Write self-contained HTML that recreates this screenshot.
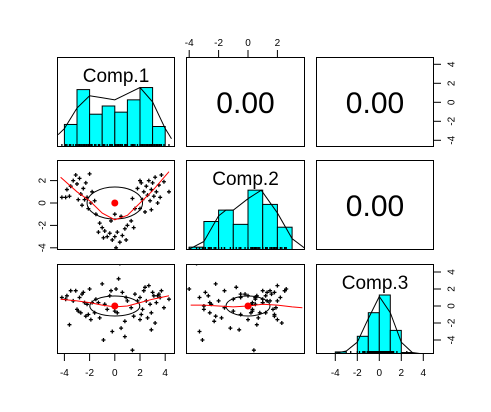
<!DOCTYPE html>
<html><head><meta charset="utf-8"><style>
html,body{margin:0;padding:0;background:#fff;}
svg{display:block;font-family:"Liberation Sans",Arial,sans-serif;}
</style></head><body>
<svg id="chart" width="491" height="412" viewBox="0 0 491 412"></svg>
<script>
// ---- data ----
const varNames = ["Comp.1","Comp.2","Comp.3"];
const corrValues = ["0.00","0.00","0.00"];
const comp1 = [-3.8,-3.5,-3.3,-3.0,-2.8,-2.7,-2.5,-2.4,-2.3,-2.2,-2.0,-1.9,-3.9,-4.2,-3.6,-2.6,-2.9,-1.8,-3.1,-2.1,
 -1.5,-1.2,-1.0,-0.8,-0.6,-0.4,-0.2,0.0,0.2,0.4,0.6,0.8,1.0,1.3,-0.9,0.1,0.9,1.5,-0.3,0.5,-1.3,0.0,1.6,-1.6,0.3,1.4,0.8,
 2.0,2.2,2.3,2.5,2.6,2.7,2.8,2.9,3.0,3.1,3.2,3.3,3.5,3.7,3.9,4.3,2.1,2.4,2.9,3.4,1.8,2.0,3.6];
const comp2 = [1.2,1.5,2.0,1.7,2.2,0.8,1.3,0.3,1.8,0.5,2.6,0.0,0.5,0.5,0.6,-0.2,0.3,1.0,2.5,-0.5,
 -1.0,-1.8,-2.2,-2.5,-3.0,-2.7,-3.3,-3.0,-2.6,-3.5,-2.9,-2.3,-2.0,-1.6,-3.1,-4.0,-3.3,-2.2,-1.6,-1.2,-2.6,-1.0,-0.5,0.2,4.0,0.4,-4.5,
 -0.5,0.3,1.0,1.5,0.7,2.0,0.2,1.2,1.8,0.6,2.3,1.0,1.6,2.5,1.9,1.0,1.8,-0.8,-0.6,0.0,1.3,2.0,0.5];
const comp3 = [1.2,1.8,0.6,-0.4,1.0,-0.8,1.6,0.4,-1.2,0.2,2.0,-1.6,0.8,1.0,-2.2,1.4,-0.6,0.4,1.8,-1.0,
 0.8,-1.4,2.6,0.2,-0.4,1.2,-3.0,0.0,-0.8,5.0,1.6,-1.8,0.6,-0.2,-4.0,2.0,1.0,-1.2,1.8,-2.6,0.4,-0.6,1.4,-0.8,3.2,-5.2,-3.6,
 1.0,-0.4,1.8,0.6,-1.4,2.4,0.2,-0.8,1.6,1.2,-2.0,0.4,1.4,1.8,-0.2,0.8,-1.0,2.2,-2.8,1.2,0.6,-1.6,1.0];
// histograms (bin starts, counts)
const hist1Bins = [-4,-3,-2,-1,0,1,2,3];
const hist1Counts = [11,28,16,20,17,23,29,10];
const hist2Bins = [-4,-3,-2,-1,0,1,2];
const hist2Counts = [1,10,14,9,21,16,8];
const hist3Bins = [-4,-3,-2,-1,0,1,2];
const hist3Counts = [0.7,0,6,14,20,8,0.5];
// density curves
const dens1X = [-4.5,-4,-3,-2,-1,0,1,2,3,4,4.5];
const dens1Y = [6,9,19,25,24,23,26,29,22,9,4];
const dens2X = [-4,-3,-2,-1.5,-1,0,0.9,2,3,3.9];
const dens2Y = [0.3,3,12,14,14,18,21,13,4,0.5];
const dens3X = [-4,-3,-2,-1,0,1,2,3,4];
const dens3Y = [0.2,1,4,12,19.5,14,4,0.5,0];
// loess fits
const loess21X = [-4.3,-3,-2,-1,0,1,2,3,4.3];
const loess21Y = [2.3,1.0,0.2,-0.9,-1.5,-1.1,0,1.1,2.8];
const loess31X = [-4.3,-3,-2,-1,0,1,2,3,4.3];
const loess31Y = [0.8,0.6,0.4,0.1,-0.1,0.0,0.4,0.8,1.2];
const loess32X = [-3.9,-3,-2,-1,0,1,2,3,3.7];
const loess32Y = [0.1,0.1,0.0,-0.1,0.0,0.2,0.1,-0.1,-0.2];
// ticks
const ticks = [-4,-2,0,2,4];

// ---- layout ----
const NS="http://www.w3.org/2000/svg";
const svg=document.getElementById('chart');
const colL=[57,186,316], colR=[175,305,434];
const rowT=[57,160,264], rowB=[147,250,354];
const xFn=[v=>114.8+12.6*v, v=>248+14.7*v, v=>379.3+11*v];
const yFnRow=[v=>102.3-9.5*v, v=>203-11.2*v, v=>306-8.5*v];
const histScale=[2.05,2.85,2.95];
function el(tag,attrs,parent){const e=document.createElementNS(NS,tag);for(const k in attrs)e.setAttribute(k,attrs[k]);(parent||svg).appendChild(e);return e;}
const defs=el('defs',{});
for(let r=0;r<3;r++)for(let c=0;c<3;c++){
  const cp=el('clipPath',{id:`cp${r}${c}`},defs);
  el('rect',{x:colL[c],y:rowT[r],width:colR[c]-colL[c],height:rowB[r]-rowT[r]},cp);
}
const cols=[comp1,comp2,comp3];
const hists=[[hist1Bins,hist1Counts],[hist2Bins,hist2Counts],[hist3Bins,hist3Counts]];
const dens=[[dens1X,dens1Y],[dens2X,dens2Y],[dens3X,dens3Y]];
const loess={"1-0":[loess21X,loess21Y],"2-0":[loess31X,loess31Y],"2-1":[loess32X,loess32Y]};

for(let r=0;r<3;r++)for(let c=0;c<3;c++){
  const g=el('g',{'clip-path':`url(#cp${r}${c})`});
  
  if(r===c){
    
    const base=rowB[r], xf=xFn[c], s=histScale[r];
    const [bins,counts]=hists[r];
    bins.forEach((b,i)=>{
      const h=counts[i]*s; if(h<=0)return;
      const bar=el('rect',{x:xf(b),y:base-h,width:xf(b+1)-xf(b),height:h,fill:'#00ffff',stroke:'#000','stroke-width':1},g);
      
      
    });
    const rugScale = r===2?0.5:1;
    cols[r].forEach(v=>{const x=xf(v*rugScale);el('line',{x1:x,x2:x,y1:base,y2:base-3,stroke:'#000','stroke-width':1.3},g);});
    const [dx,dy]=dens[r];
    const p=el('polyline',{points:dx.map((x,i)=>`${xf(x)},${base-dy[i]*s}`).join(' '),fill:'none',stroke:'#000','stroke-width':1},g);
    
    
    const t=el('text',{x:(colL[c]+colR[c])/2,y:rowT[r]+25,'text-anchor':'middle','font-size':19,fill:'#000'});
    t.textContent=varNames[r];
    
    
  } else if(r<c){
    
    const t=el('text',{x:(colL[c]+colR[c])/2,y:(rowT[r]+rowB[r])/2+11,'text-anchor':'middle','font-size':30,fill:'#000'});
    t.textContent=corrValues[r+c-1];
    
    
  } else {
    
    const xf=xFn[c], yf=yFnRow[r], xs=cols[c], ys=cols[r];
    xs.forEach((x,i)=>{
      const px=xf(x),py=yf(ys[i]);
      el('path',{d:`M${px-2},${py}H${px+2}M${px},${py-2}V${py+2}`,stroke:'#000','stroke-width':1.3},g);
    });
    const rx = r===1?2.2*12.6:(c===0?25:22), ry = r===1?16:10;
    el('ellipse',{cx:xf(0),cy:yf(0),rx:rx,ry:ry,fill:'none',stroke:'#000','stroke-width':1},g);
    const [lx,ly]=loess[`${r}-${c}`];
    const lp=el('polyline',{points:lx.map((x,i)=>`${xf(x)},${yf(ly[i])}`).join(' '),fill:'none',stroke:'#ff0000','stroke-width':1},g);
    
    
    el('circle',{cx:xf(0),cy:yf(0),r:3.5,fill:'#ff0000'},g);
  }
  const b=el('rect',{x:colL[c]+0.5,y:rowT[r]+0.5,width:colR[c]-colL[c]-1,height:rowB[r]-rowT[r]-1,fill:'none',stroke:'#000','stroke-width':1});
  
  
}
function axisX(c,y,dir){
  const xf=xFn[c];
  ticks.forEach(v=>{const x=xf(v); if(x<colL[c]-1||x>colR[c]+1)return;
    el('line',{x1:x,x2:x,y1:y,y2:y+7*dir,stroke:'#000'});
    const t=el('text',{x:x,y:dir>0?y+22:y-11,'text-anchor':'middle','font-size':10,fill:'#000'});
    t.textContent=v;
    
    
  });
}
function axisY(r,x,dir){
  const yf=yFnRow[r];
  ticks.forEach(v=>{const y=yf(v); if(y<rowT[r]-1||y>rowB[r]+1)return;
    el('line',{x1:x,x2:x+7*dir,y1:y,y2:y,stroke:'#000'});
    const tx=dir>0?x+18:x-14;
    const t=el('text',{x:tx,y:y,'text-anchor':'middle','font-size':10,fill:'#000',transform:`rotate(-90 ${tx} ${y})`,'dominant-baseline':'central'});
    t.textContent=v;
    
    
  });
}
axisX(0,354,1); axisX(2,354,1); axisX(1,57,-1);
axisY(0,434,1); axisY(2,434,1); axisY(1,57,-1);
</script>
</body></html>
